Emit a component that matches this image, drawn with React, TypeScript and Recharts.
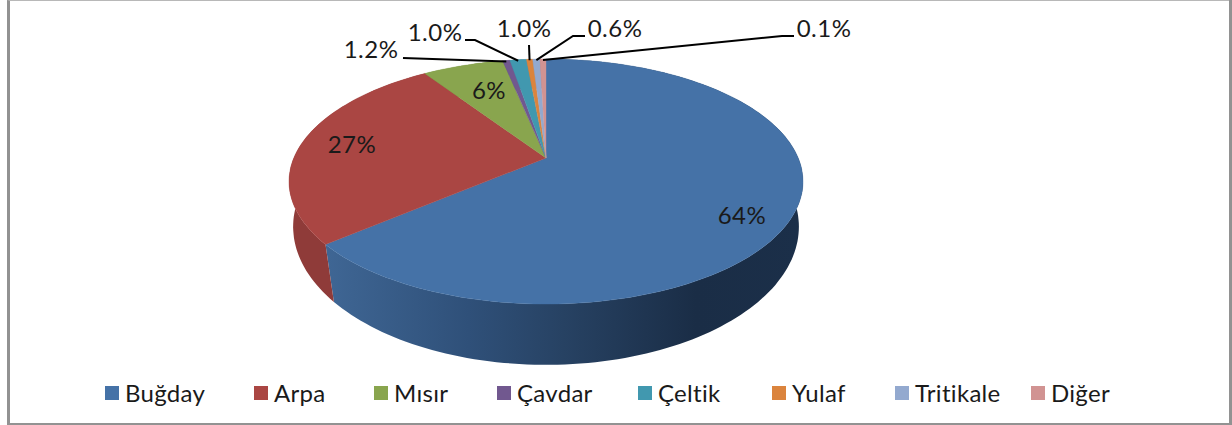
import React from 'react';
import { PieChart, Pie, Legend } from 'recharts';

const CROPS = ['Buğday', 'Arpa', 'Mısır', 'Çavdar', 'Çeltik', 'Yulaf', 'Tritikale', 'Diğer'];
// slice sizes as drawn in the picture (the thin slices are not to scale with their printed labels)
const SHARES = [63.9, 26.7, 6.13, 0.55, 1.25, 0.47, 0.55, 0.45];
const SHARE_LABELS = ['64%', '27%', '6%', '1.2%', '1.0%', '1.0%', '0.6%', '0.1%'];
const COLORS = ['#4572A7', '#AA4643', '#89A54E', '#71588F', '#4198AF', '#DB843D', '#93A9CF', '#D19392'];
const WALL_COLORS = ['url(#wheatWall)', '#8f3b39', '#6f8640', '#5a4672', '#34798c', '#b06a30', '#7687a6', '#a77675'];

const data = CROPS.map((name, i) => ({ name, value: SHARES[i], fill: COLORS[i], wall: WALL_COLORS[i], label: SHARE_LABELS[i] }));

const FONT = 'Lato, Carlito, sans-serif';
const CX = 546;
const CY = 158;

// perspective projection of the unit disc, near edge at the bottom
const project = (deg: number, depth = 0) => {
  const a = ((90 - deg) * Math.PI) / 180;
  const u = Math.sin(a);
  const v = -Math.cos(a);
  if (depth) {
    const w = 1 - 0.15 * v;
    return [CX + (250 * u) / w, CY + 48 + (135 * v) / w];
  }
  const w = 1 - 0.192 * v;
  return [CX + (252.2 * u) / w, CY + (118 * v) / w];
};

const arc = (start: number, end: number, depth = 0) => {
  const n = Math.max(2, Math.ceil(Math.abs(start - end) / 1.5));
  return Array.from({ length: n + 1 }, (_, i) => project(start + ((end - start) * i) / n, depth));
};

const toPath = (pts: number[][]) => 'M' + pts.map((p) => `${p[0].toFixed(1)},${p[1].toFixed(1)}`).join('L') + 'Z';

const TopSlice = (props: any) => {
  const pts = [[CX, CY], ...arc(props.startAngle, props.endAngle)];
  return <path d={toPath(pts)} fill={props.fill} stroke={props.fill} strokeWidth={0.4} />;
};

const WallSlice = (props: any) => {
  const pts = [...arc(props.startAngle, props.endAngle), ...arc(props.endAngle, props.startAngle, 1)];
  return <path d={toPath(pts)} fill={props.wall} stroke="none" />;
};

// text anchors for each label, and the elbow of its leader line if it has one
const LABEL_SPOTS = [
  { x: 742, y: 214 },
  { x: 352, y: 143 },
  { x: 489, y: 89 },
  { x: 371, y: 48, line: [[403, 58]] },
  { x: 435, y: 31, line: [[465, 40], [475, 40]] },
  { x: 524, y: 27, line: [[529, 45]] },
  { x: 615, y: 27, line: [[585, 36], [573, 36]] },
  { x: 824, y: 27, line: [[794, 36], [782, 36]] },
];

const renderLabel = (props: any) => {
  const spot = LABEL_SPOTS[props.index];
  const rim = project(props.midAngle);
  const line = spot.line ? [...spot.line, [rim[0], rim[1] + 1]] : null;
  return (
    <g key={props.index}>
      {line && (
        <polyline points={line.map((p) => p.join(',')).join(' ')} fill="none" stroke="#000" strokeWidth={2} />
      )}
      <text x={spot.x} y={spot.y} textAnchor="middle" dominantBaseline="central" fontFamily={FONT} fontSize={24} letterSpacing={0.5} fill="#1a1a1a">
        {props.payload?.label ?? SHARE_LABELS[props.index]}
      </text>
    </g>
  );
};

// legend slot widths, marker to next marker
const LEGEND_SLOTS = [149, 120, 123, 141, 134, 123, 136, 90];

const renderLegend = () => (
  <div style={{ display: 'flex', fontFamily: FONT, fontSize: 24, letterSpacing: 0.3, color: '#1a1a1a', lineHeight: '30px', paddingLeft: 105 }}>
    {CROPS.map((name, i) => (
      <div key={name} style={{ display: 'flex', alignItems: 'center', width: LEGEND_SLOTS[i] }}>
        <span style={{ width: 14, height: 14, background: COLORS[i], marginRight: 6 }} />
        {name}
      </div>
    ))}
  </div>
);

export default function App() {
  return (
    <div style={{ position: 'absolute', left: 0, top: 0, width: 1232, height: 425, background: '#fff', overflow: 'hidden' }}>
      <div style={{ position: 'absolute', left: 7, top: 0, width: 1222, height: 423, boxSizing: 'border-box', borderLeft: '3px solid #929292', borderTop: '1px solid #b8b8b8' }} />
      <div style={{ position: 'absolute', left: 1229, top: 0, width: 3, height: 425, background: '#929292' }} />
      <div style={{ position: 'absolute', left: 7, top: 423, width: 1225, height: 2, background: '#929292' }} />
      <PieChart width={1232} height={425} margin={{ top: 0, right: 0, bottom: 0, left: 0 }}>
        <defs>
          <linearGradient id="wheatWall" gradientUnits="userSpaceOnUse" x1={327} y1={0} x2={800} y2={0}>
            <stop offset="0" stopColor="#3f6694" />
            <stop offset="0.3" stopColor="#2f5079" />
            <stop offset="0.5" stopColor="#274263" />
            <stop offset="0.78" stopColor="#1a2d46" />
            <stop offset="1" stopColor="#1b2f49" />
          </linearGradient>
        </defs>
        <Pie
          data={data}
          dataKey="value"
          cx={CX}
          cy={CY}
          outerRadius={257}
          startAngle={90}
          endAngle={-270}
          paddingAngle={0}
          stroke="none"
          legendType="none"
          shape={WallSlice}
          inactiveShape={WallSlice}
          isAnimationActive={false}
        />
        <Pie
          data={data}
          dataKey="value"
          cx={CX}
          cy={CY}
          outerRadius={257}
          startAngle={90}
          endAngle={-270}
          paddingAngle={0}
          stroke="none"
          shape={TopSlice}
          inactiveShape={TopSlice}
          label={renderLabel}
          labelLine={false}
          isAnimationActive={false}
        />
        <Legend content={renderLegend} wrapperStyle={{ left: 0, top: 378, width: 1232 }} />
      </PieChart>
    </div>
  );
}
